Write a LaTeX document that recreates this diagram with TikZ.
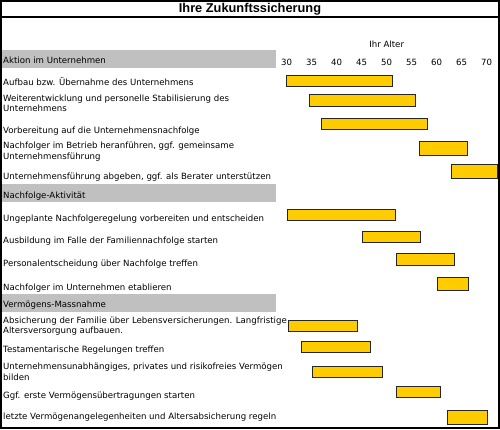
\documentclass[tikz,border=0pt]{standalone}
\usepackage{fontspec}
\setmainfont{DejaVu Sans}
\newfontfamily\titlefont{Liberation Sans}
\definecolor{bandgray}{HTML}{C0C0C0}
\definecolor{baryellow}{HTML}{FFCC00}
\begin{document}
\begin{tikzpicture}[x=1pt,y=-1pt,
  lbl/.style={anchor=west,inner sep=0pt,align=left,font=\fontsize{8.6}{10.5}\selectfont},
  tick/.style={inner sep=0pt,font=\fontsize{8.6}{10.5}\selectfont},
  band/.style={fill=bandgray,draw=none},
  barbox/.style={fill=baryellow,draw=black!85,line width=0.8pt}]
\useasboundingbox (0,0) rectangle (500,429);
\fill[white] (0,0) rectangle (500,429);
% gray section bands
\fill[band] (0,50) rectangle (276,68);
\fill[band] (0,184) rectangle (276,202);
\fill[band] (0,294) rectangle (276,312);
% title
\node[inner sep=0pt,font=\titlefont\fontsize{12.8}{14}\selectfont\bfseries] (title) at (250,9.3) {Ihre Zukunftssicherung};
\draw[line width=2pt] (0,16.5) -- (500,16.5);
% axis
\node[tick] (alter) at (386.7,44) {Ihr Alter};
\foreach \a in {30,35,...,70}{
  \node[tick] (t\a) at ({286.7+(\a-30)*5},62) {\a};
}
% labels
\node[lbl] (h1) at (3,60) {Aktion im Unternehmen};
\node[lbl] (r1) at (3,82) {Aufbau bzw. Übernahme des Unternehmens};
\node[lbl] (r2) at (3,103.5) {Weiterentwicklung und personelle Stabilisierung des\\Unternehmens};
\node[lbl] (r3) at (3,131) {Vorbereitung auf die Unternehmensnachfolge};
\node[lbl] (r4) at (3,151.5) {Nachfolger im Betrieb heranführen, ggf. gemeinsame\\Unternehmensführung};
\node[lbl] (r5) at (3,177) {Unternehmensführung abgeben, ggf. als Berater unterstützen};
\node[lbl] (h2) at (3,196) {Nachfolge-Aktivität};
\node[lbl] (r6) at (3,219) {Ungeplante Nachfolgeregelung vorbereiten und entscheiden};
\node[lbl] (r7) at (3,241) {Ausbildung im Falle der Familiennachfolge starten};
\node[lbl] (r8) at (3,264) {Personalentscheidung über Nachfolge treffen};
\node[lbl] (r9) at (3,288) {Nachfolger im Unternehmen etablieren};
\node[lbl] (h3) at (3,305) {Vermögens-Massnahme};
\node[lbl] (r10) at (3,326) {Absicherung der Familie über Lebensversicherungen. Langfristige\\Altersversorgung aufbauen.};
\node[lbl] (r11) at (3,350) {Testamentarische Regelungen treffen};
\node[lbl] (r12) at (3,372) {Unternehmensunabhängiges, privates und risikofreies Vermögen\\bilden};
\node[lbl] (r13) at (3,396) {Ggf. erste Vermögensübertragungen starten};
\node[lbl] (r14) at (3,417) {letzte Vermögenangelegenheiten und Altersabsicherung regeln};
% bars
\draw[barbox] (286,75) rectangle (392,86);
\draw[barbox] (309,94) rectangle (415,106);
\draw[barbox] (321,118) rectangle (427,129);
\draw[barbox] (419,141) rectangle (467,155);
\draw[barbox] (451,164) rectangle (497,178);
\draw[barbox] (287,209) rectangle (395,220);
\draw[barbox] (362,231) rectangle (420,242);
\draw[barbox] (396,253) rectangle (454,265);
\draw[barbox] (437,277) rectangle (468,290);
\draw[barbox] (288,320) rectangle (357,331);
\draw[barbox] (301,341) rectangle (370,352);
\draw[barbox] (312,366) rectangle (382,377);
\draw[barbox] (396,386) rectangle (440,397);
\draw[barbox] (447,410) rectangle (487,424);
% frame
\draw[line width=2pt] (1,1) rectangle (499,428);
\end{tikzpicture}
\end{document}
